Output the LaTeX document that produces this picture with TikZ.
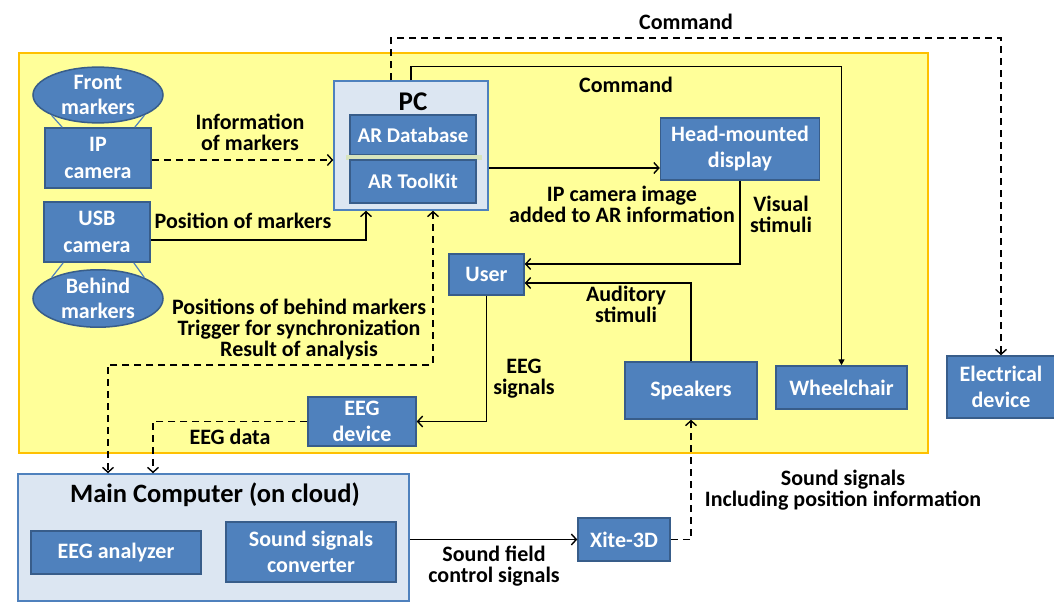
\documentclass[tikz,border=0pt]{standalone}
\usepackage{fontspec}
\setmainfont{Carlito}
\usetikzlibrary{shapes.geometric,arrows.meta,calc}
\definecolor{boxblue}{RGB}{79,129,189}
\definecolor{boxedge}{RGB}{56,93,138}
\definecolor{panel}{RGB}{220,230,242}
\definecolor{zone}{RGB}{255,255,153}
\definecolor{zoneedge}{RGB}{255,192,0}
\definecolor{barcol}{RGB}{215,228,189}
\tikzset{
  txt/.style={font=\fontsize{22}{21}\selectfont\bfseries, align=center, inner sep=0pt},
  bluebox/.style={draw=boxedge, line width=1.5pt, fill=boxblue, text=white, txt},
  panelbox/.style={draw=boxblue, line width=1.5pt, fill=panel},
  marker/.style={ellipse, draw=boxedge, line width=1.5pt, fill=boxblue, text=white, txt,
    minimum width=130pt, minimum height=54pt},
  conn/.style={line width=1.6pt, -{Straight Barb[length=5pt,width=11pt,line width=1.4pt]}},
  dconn/.style={conn, dash pattern=on 7pt off 5pt},
  thinconn/.style={line width=1.4pt, -{Triangle[length=6pt,width=6pt]}},
  tie/.style={draw=boxblue, line width=1.2pt},
}
\begin{document}
\begin{tikzpicture}[x=1pt,y=-1pt]
\useasboundingbox (0,0) rectangle (1054,602);

% local area
\draw[draw=zoneedge, fill=zone, line width=2pt] (19,53) rectangle (928,453);

% PC with its two modules
\node[panelbox, minimum width=154pt, minimum height=129pt] (pc) at (411,145.5) {};
\node[txt, font=\fontsize{27}{27}\selectfont\bfseries] (pct) at (413,102) {PC};
\node[bluebox, font=\fontsize{21}{21}\selectfont\bfseries, minimum width=126pt, minimum height=40pt] (ardb) at (413,135) {AR Database};
\fill[barcol] (346,155) rectangle (482,159.5);
\node[bluebox, font=\fontsize{21}{21}\selectfont\bfseries, minimum width=126pt, minimum height=43pt] (artk) at (413,181.5) {AR ToolKit};

% cameras and markers
\node[bluebox, minimum width=106pt, minimum height=60pt] (ip) at (98,158) {IP\\[5.5pt]camera};
\node[bluebox, minimum width=106pt, minimum height=60pt] (usb) at (97,232) {USB\\[5.5pt]camera};
\node[marker] (front) at (98,95) {Front\\[4pt]markers};
\node[marker] (behind) at (98,298.5) {Behind\\[4pt]markers};
\draw[tie] (front.south west) -- ([xshift=18pt]ip.north west);
\draw[tie] (front.south east) -- ([xshift=-17pt]ip.north east);
\draw[tie] (behind.north west) -- ([xshift=20pt]usb.south west);
\draw[tie] (behind.north east) -- ([xshift=-17pt]usb.south east);

% devices
\node[bluebox, minimum width=159pt, minimum height=62pt] (hmd) at (740,149) {Head-mounted\\[5pt]display};
\node[bluebox, minimum width=75pt, minimum height=41pt] (user) at (486.5,274.5) {User};
\node[bluebox, minimum width=132pt, minimum height=57pt] (spk) at (691,390.5) {Speakers};
\node[bluebox, minimum width=131pt, minimum height=43pt] (wheel) at (841.5,387.5) {Wheelchair};
\node[bluebox, minimum width=108pt, minimum height=62pt] (elec) at (1001,387) {Electrical\\[5pt]device};
\node[bluebox, minimum width=108pt, minimum height=49pt] (eeg) at (362,421.5) {EEG\\[5.5pt]device};

% cloud side
\node[panelbox, minimum width=391pt, minimum height=127pt] (main) at (213.5,537.5) {};
\node[txt, font=\fontsize{26.5}{26.5}\selectfont\bfseries] (maint) at (215,495) {Main Computer (on cloud)};
\node[bluebox, minimum width=170pt, minimum height=43pt] (ana) at (116,552.5) {EEG analyzer};
\node[bluebox, minimum width=170pt, minimum height=60pt] (conv) at (311,552) {Sound signals\\[5.5pt]converter};
\node[bluebox, minimum width=92pt, minimum height=43pt] (xite) at (624,539.5) {Xite-3D};

% connectors
\draw[dconn] (ip.east |- 0,160) -- (pc.west |- 0,160);
\draw[conn] ([yshift=-8pt]usb.east) -| ([xshift=-45pt]pc.south);
\draw[conn] ([yshift=-22.5pt]pc.east) -- ([yshift=-22.5pt]pc.east -| hmd.west);
\draw[thinconn] (pc.north) -- ++(0,-14) -| (wheel.north);
\draw[dconn] ([xshift=-20pt]pc.north) -- ++(0,-42) -| (elec.north);
\draw[conn] (hmd.south) |- ([yshift=10.5pt]user.east);
\draw[conn] (spk.north) |- ([yshift=-8.5pt]user.east);
\draw[conn] (user.south) |- (eeg.east);
\draw[dconn, {Straight Barb[length=5pt,width=11pt,line width=1.4pt]}-{Straight Barb[length=5pt,width=11pt,line width=1.4pt]}]
  ([xshift=22pt]pc.south) -- ++(0,154) -| ([xshift=-105.5pt]main.north);
\draw[dconn] (eeg.west) -| ([xshift=-60.5pt]main.north);
\draw[conn] (main.east |- xite.west) -- (xite.west);
\draw[dconn] (xite.east) -| (spk.south);

% connector labels
\node[txt] (lcmdtop) at (686,22) {Command};
\node[txt] (lcmd) at (626,85) {Command};
\node[txt] (linfo) at (250,132) {Information\\of markers};
\node[txt] (lpos) at (243,221) {Position of markers};
\node[txt] (lipimg) at (622,204) {IP camera image\\added to AR information};
\node[txt] (lvis) at (781,214) {Visual\\stimuli};
\node[txt] (laud) at (626,304) {Auditory\\stimuli};
\node[txt] (lsync) at (299,329) {Positions of behind markers\\Trigger for synchronization\\Result of analysis};
\node[txt] (leegs) at (524,379) {EEG\\signals};
\node[txt] (leegd) at (230,437) {EEG data};
\node[txt] (lsnd) at (843,490) {Sound signals\\Including position information};
\node[txt] (lfield) at (494,566) {Sound field\\control signals};
\end{tikzpicture}
\end{document}
